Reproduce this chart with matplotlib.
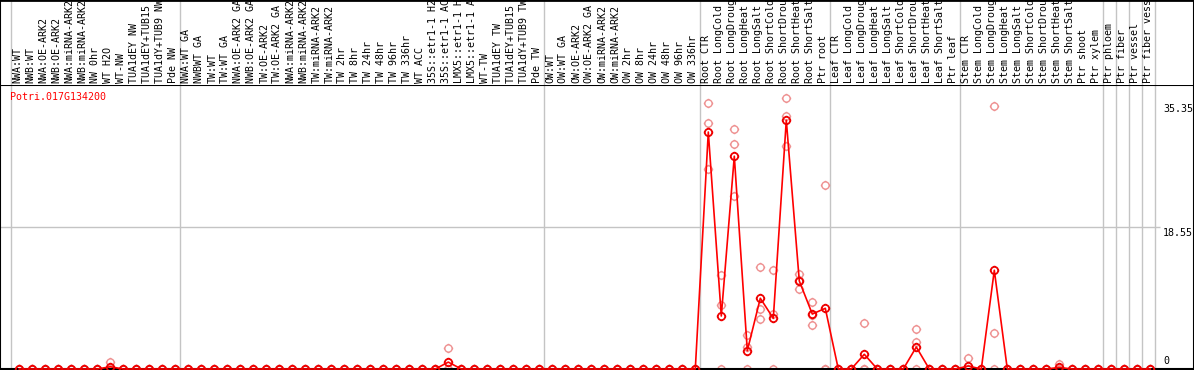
import numpy as np
import matplotlib.pyplot as plt
import matplotlib.transforms as mtransforms
from matplotlib.path import Path

# sample names, left to right
samples = ['NWA:WT', 'NWB:WT', 'NWA:OE-ARK2', 'NWB:OE-ARK2', 'NWA:miRNA-ARK2', 'NWB:miRNA-ARK2',
           'NW 0hr', 'WT H2O', 'WT-NW', 'TUA1dEY NW', 'TUA1dEY+TUB15 NW', 'TUA1dY+TUB9 NW', 'Pde NW',
           'NWA:WT GA', 'NWBWT GA', 'TW:WT', 'TW:WT GA', 'NWA:OE-ARK2 GA', 'NWB:OE-ARK2 GA',
           'TW:OE-ARK2', 'TW:OE-ARK2 GA', 'NWA:miRNA-ARK2', 'NWB:miRNA-ARK2', 'TW:miRNA-ARK2',
           'TW:miRNA-ARK2', 'TW 2hr', 'TW 8hr', 'TW 24hr', 'TW 48hr', 'TW 96hr', 'TW 336hr',
           'WT ACC', '35S::etr1-1 H2O', '35S::etr1-1 ACC', 'LMX5::etr1-1 H2O', 'LMX5::etr1-1 ACC',
           'WT-TW', 'TUA1dEY TW', 'TUA1dEY+TUB15 TW', 'TUA1dY+TUB9 TW', 'Pde TW',
           'OW:WT', 'OW:WT GA', 'OW:OE-ARK2', 'OW:OE-ARK2 GA', 'OW:miRNA-ARK2', 'OW:miRNA-ARK2',
           'OW 2hr', 'OW 8hr', 'OW 24hr', 'OW 48hr', 'OW 96hr', 'OW 336hr',
           'Root CTR', 'Root LongCold', 'Root LongDrought', 'Root LongHeat', 'Root LongSalt',
           'Root ShortCold', 'Root ShortDrought', 'Root ShortHeat', 'Root ShortSalt', 'Ptr root',
           'Leaf CTR', 'Leaf LongCold', 'Leaf LongDrought', 'Leaf LongHeat', 'Leaf LongSalt',
           'Leaf ShortCold', 'Leaf ShortDrought', 'Leaf ShortHeat', 'Leaf ShortSalt', 'Ptr leaf',
           'Stem CTR', 'Stem LongCold', 'Stem LongDrought', 'Stem LongHeat', 'Stem LongSalt',
           'Stem ShortCold', 'Stem ShortDrought', 'Stem ShortHeat', 'Stem ShortSalt',
           'Ptr shoot', 'Ptr xylem', 'Ptr phloem', 'Ptr fiber', 'Ptr vessel', 'Ptr fiber vessel']

# mean expression
mean_expr = [0, 0, 0, 0, 0, 0, 0, 0.29, 0, 0, 0, 0, 0,
             0, 0, 0, 0, 0, 0, 0, 0, 0, 0, 0, 0, 0, 0, 0, 0, 0, 0,
             0, 0, 0.9, 0, 0, 0, 0, 0, 0, 0,
             0, 0, 0, 0, 0, 0, 0, 0, 0, 0, 0, 0,
             30.96, 6.92, 27.8, 2.39, 9.24, 6.62, 32.5, 11.5, 7.18, 7.93,
             0, 0, 1.92, 0, 0, 0, 2.87, 0, 0, 0,
             0.39, 0, 12.9, 0, 0, 0, 0, 0.2, 0,
             0, 0, 0, 0, 0, 0]

# replicate values
rep_a = [0, 0, 0, 0, 0, 0, 0, 0.88, 0, 0, 0, 0, 0,
         0, 0, 0, 0, 0, 0, 0, 0, 0, 0, 0, 0, 0, 0, 0, 0, 0, 0,
         0, 0, 2.7, 0, 0, 0, 0, 0, 0, 0,
         0, 0, 0, 0, 0, 0, 0, 0, 0, 0, 0, 0,
         34.7, 12.24, 31.3, 4.44, 13.29, 12.89, 35.35, 12.45, 8.75, 24.0,
         0, 0, 6.0, 0, 0, 0, 5.19, 0, 0, 0,
         1.44, 0, 34.36, 0, 0, 0, 0, 0.65, 0,
         0, 0, 0, 0, 0, 0]
rep_b = [0, 0, 0, 0, 0, 0, 0, 0, 0, 0, 0, 0, 0,
         0, 0, 0, 0, 0, 0, 0, 0, 0, 0, 0, 0, 0, 0, 0, 0, 0, 0,
         0, 0, 0, 0, 0, 0, 0, 0, 0, 0,
         0, 0, 0, 0, 0, 0, 0, 0, 0, 0, 0, 0,
         32.2, 8.36, 29.4, 2.83, 7.80, 7.18, 33.0, 11.6, 7.1, 0,
         0, 0, 0, 0, 0, 0, 3.57, 0, 0, 0,
         0, 0, 4.70, 0, 0, 0, 0, 0, 0,
         0, 0, 0, 0, 0, 0]
rep_c = [0, 0, 0, 0, 0, 0, 0, 0, 0, 0, 0, 0, 0,
         0, 0, 0, 0, 0, 0, 0, 0, 0, 0, 0, 0, 0, 0, 0, 0, 0, 0,
         0, 0, 0, 0, 0, 0, 0, 0, 0, 0,
         0, 0, 0, 0, 0, 0, 0, 0, 0, 0, 0, 0,
         26.1, 0, 22.6, 0, 6.57, 0, 29.1, 10.41, 5.71, 0,
         0, 0, 0, 0, 0, 0, 0, 0, 0, 0,
         0, 0, 0, 0, 0, 0, 0, 0, 0,
         0, 0, 0, 0, 0, 0]

group_starts = [0, 13, 41, 53, 63, 73, 84, 85, 86, 87, 88]
yticks = [0, 18.55, 35.35]
gene = 'Potri.017G134200'

mono = 'DejaVu Sans Mono'
fs = 7.2

# circle marker with four little ticks
tick_path = Path([(0, 1), (0, 1.3), (0, -1), (0, -1.3), (1, 0), (1.3, 0), (-1, 0), (-1.3, 0)],
                 [Path.MOVETO, Path.LINETO] * 4)
mk = Path.make_compound_path(Path.unit_circle(), tick_path)

W, H = 1194, 370
fig = plt.figure(figsize=(W / 100, H / 100), dpi=100)
ax = fig.add_axes([0, 1 / H, 1, 284 / H])
hd = fig.add_axes([0, 285 / H, 1, 85 / H])

x = np.arange(len(samples))
xlim = (-19.3 / 13, -19.3 / 13 + W / 13)
for a in (ax, hd):
    a.set_xlim(*xlim)
    a.set_xticks([])
    a.set_yticks([])
    for s in a.spines.values():
        s.set_color('black')
        s.set_linewidth(1.5)
    for g in group_starts:
        a.axvline(g - 0.64, color='#c4c4c4', lw=1, zorder=0)
hd.spines['bottom'].set_visible(False)
hd.spines['top'].set_linewidth(2)
ax.set_ylim(0, 37.1)

ax.hlines(18.55, xlim[0], 87.75, color='#c4c4c4', lw=1, zorder=0)

for rep in (rep_a, rep_b, rep_c):
    ax.plot(x, rep, ls='none', marker=mk, ms=6.8, mfc='none', mec='#ee9090',
            mew=1.0, clip_on=False, zorder=2)
ax.plot(x, mean_expr, color='#ff0000', lw=1.2, marker=mk, ms=6.8, mfc='none',
        mec='#ee0000', mew=1.3, clip_on=False, zorder=3)

# sample names in the header
trans_hd = mtransforms.blended_transform_factory(hd.transData, hd.transAxes)
for i, s in enumerate(samples):
    hd.text(i - 0.14, 2 / 85, s, rotation=90, ha='center', va='bottom',
            fontsize=fs, family=mono, transform=trans_hd, clip_on=True)

# gene name
trans_ax = mtransforms.blended_transform_factory(ax.transData, ax.transAxes)
ax.text(-0.72, 1 - 12 / 284, gene, color='#ff0000', fontsize=fs, family=mono,
        ha='left', va='center', transform=trans_ax)

# value labels on the right
for v in yticks:
    if v == 0:
        off, va = 3, 'bottom'
    elif v == max(yticks):
        off, va = -6, 'top'
    else:
        off, va = -1, 'top'
    ax.annotate(f'{v:g}', xy=(87.98, v), xytext=(0, off * 0.72), textcoords='offset points',
                ha='left', va=va, fontsize=fs, family=mono, annotation_clip=False)

fig.savefig('out.png', dpi=100)
